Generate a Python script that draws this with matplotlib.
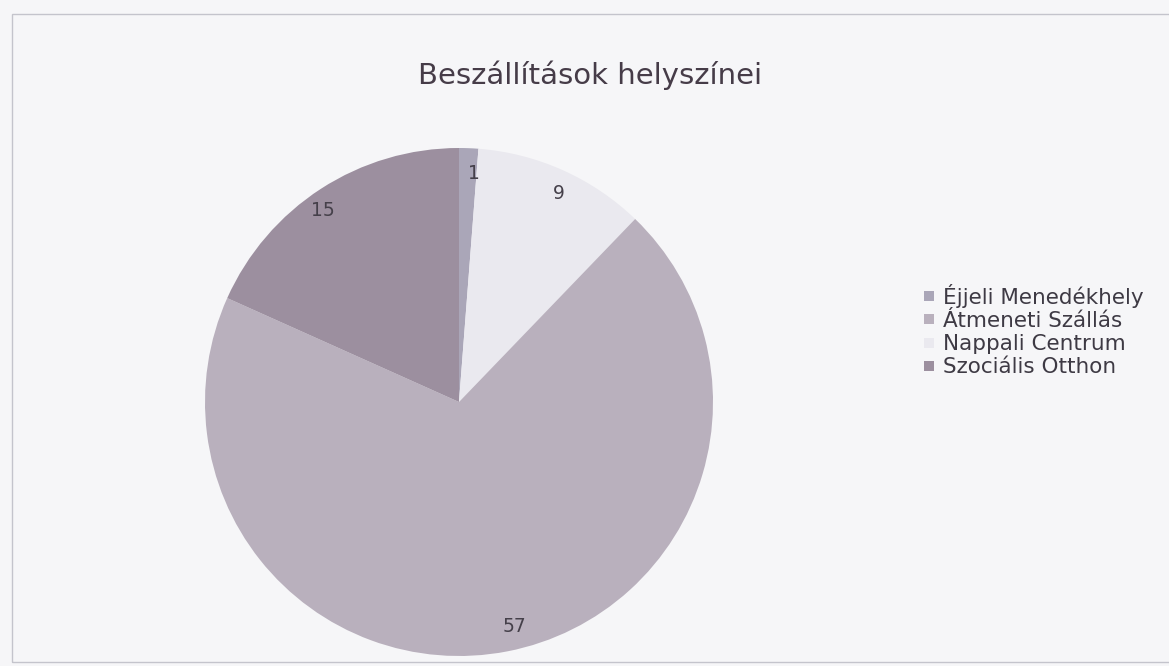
import matplotlib.pyplot as plt
from matplotlib.lines import Line2D
from matplotlib.patches import Rectangle

# slices in drawing order (clockwise from the top)
slice_names = ['Éjjeli Menedékhely', 'Nappali Centrum', 'Átmeneti Szállás', 'Szociális Otthon']
slice_values = [1, 9, 57, 15]
slice_colors = ['#aaa6b8', '#eae9ef', '#b9b0bd', '#9c8f9f']

# legend order as shown in the chart
legend_names = ['Éjjeli Menedékhely', 'Átmeneti Szállás', 'Nappali Centrum', 'Szociális Otthon']

W, H = 1169, 666
bg = '#f6f6f8'

fig = plt.figure(figsize=(W / 100, H / 100), dpi=100, facecolor=bg)

# faint frame of the chart area
fig.patches.append(Rectangle((12 / W, 4 / H), 1.2, (662 - 14) / H, transform=fig.transFigure,
                             fill=False, edgecolor='#c4c4cc', linewidth=1.0))

cx, cy, r = 459, 402, 254
ax = fig.add_axes([(cx - r) / W, (H - cy - r) / H, 2 * r / W, 2 * r / H])
ax.set_facecolor(bg)

wedges, texts = ax.pie(slice_values, colors=slice_colors, startangle=90, counterclock=False,
                       labels=[str(v) for v in slice_values], labeldistance=0.9,
                       radius=1, wedgeprops=dict(linewidth=0),
                       textprops=dict(fontsize=13.5, color='#45404a'))
ax.set_xlim(-1, 1)
ax.set_ylim(-1, 1)
ax.axis('off')

fig.text(590 / W, 1 - 75 / H, 'Beszállítások helyszínei', ha='center', va='center',
         fontsize=21, color='#463c48')

color_of = dict(zip(slice_names, slice_colors))
handles = [Line2D([], [], marker='s', linestyle='none', markersize=7,
                  markerfacecolor=color_of[n], markeredgewidth=0) for n in legend_names]
leg = fig.legend(handles, legend_names, loc='upper left', bbox_to_anchor=(912 / W, 1 - 273 / H),
                 frameon=False, fontsize=15.5, handlelength=0.6, handletextpad=0.35,
                 labelspacing=0.15, borderpad=0)
for t in leg.get_texts():
    t.set_color('#3e3a44')

fig.savefig('out.png', dpi=100, facecolor=bg)
